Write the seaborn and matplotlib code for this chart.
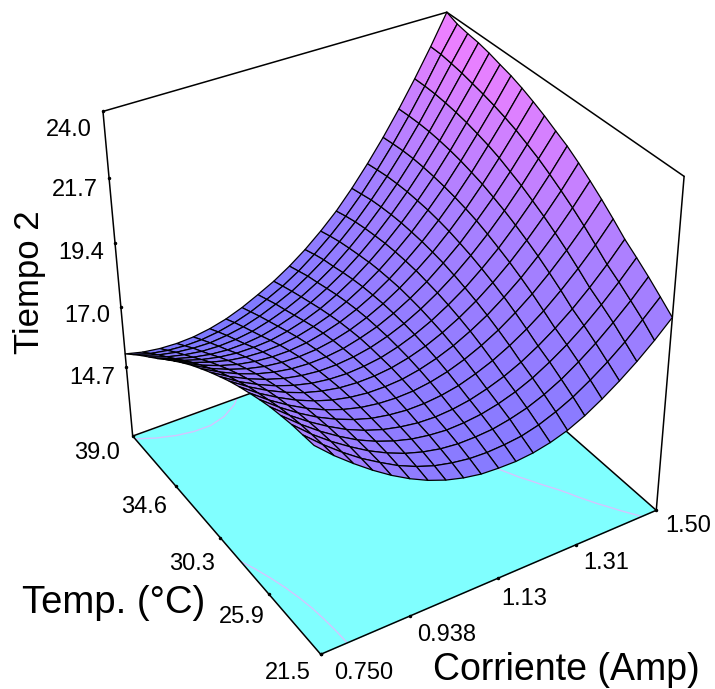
import numpy as np
import seaborn as sns
import matplotlib
matplotlib.use('Agg')
import matplotlib.pyplot as plt
from matplotlib.colors import Normalize
from mpl_toolkits.mplot3d import proj3d

corriente = [0.75, 0.7875, 0.825, 0.8625, 0.9, 0.9375, 0.975, 1.0125, 1.05, 1.0875, 1.125,
             1.1625, 1.2, 1.2375, 1.275, 1.3125, 1.35, 1.3875, 1.425, 1.4625, 1.5]
temp = [21.5, 22.375, 23.25, 24.125, 25.0, 25.875, 26.75, 27.625, 28.5, 29.375, 30.25,
        31.125, 32.0, 32.875, 33.75, 34.625, 35.5, 36.375, 37.25, 38.125, 39.0]

# filas = temp, columnas = corriente
tiempo2 = [
    [19.50, 18.90, 18.37, 17.88, 17.44, 17.06, 16.74, 16.49, 16.31, 16.19, 16.15, 16.14, 16.20, 16.33, 16.53, 16.82, 17.19, 17.61, 18.08, 18.61, 19.20],
    [19.46, 18.88, 18.36, 17.89, 17.49, 17.12, 16.83, 16.60, 16.45, 16.35, 16.32, 16.35, 16.42, 16.58, 16.82, 17.12, 17.50, 17.93, 18.42, 18.99, 19.58],
    [19.42, 18.84, 18.34, 17.90, 17.50, 17.17, 16.90, 16.70, 16.56, 16.49, 16.49, 16.53, 16.65, 16.82, 17.07, 17.39, 17.79, 18.24, 18.76, 19.32, 19.95],
    [19.34, 18.79, 18.30, 17.87, 17.49, 17.19, 16.95, 16.77, 16.66, 16.60, 16.62, 16.69, 16.83, 17.03, 17.30, 17.65, 18.05, 18.52, 19.05, 19.64, 20.29],
    [19.25, 18.71, 18.24, 17.83, 17.47, 17.19, 16.97, 16.82, 16.72, 16.69, 16.73, 16.83, 17.00, 17.22, 17.51, 17.87, 18.29, 18.77, 19.32, 19.93, 20.61],
    [19.12, 18.61, 18.16, 17.77, 17.45, 17.19, 16.99, 16.87, 16.80, 16.80, 16.86, 16.98, 17.18, 17.43, 17.75, 18.13, 18.57, 19.09, 19.66, 20.29, 21.00],
    [18.97, 18.48, 18.06, 17.70, 17.40, 17.17, 17.00, 16.90, 16.86, 16.88, 16.97, 17.12, 17.34, 17.62, 17.96, 18.37, 18.84, 19.38, 19.98, 20.64, 21.37],
    [18.81, 18.34, 17.95, 17.61, 17.34, 17.13, 16.99, 16.91, 16.90, 16.94, 17.06, 17.24, 17.48, 17.79, 18.15, 18.59, 19.08, 19.65, 20.27, 20.96, 21.71],
    [18.63, 18.19, 17.82, 17.51, 17.26, 17.08, 16.96, 16.91, 16.92, 16.99, 17.13, 17.33, 17.60, 17.93, 18.32, 18.78, 19.30, 19.89, 20.54, 21.25, 22.03],
    [18.42, 18.00, 17.66, 17.37, 17.15, 16.99, 16.90, 16.87, 16.91, 17.00, 17.17, 17.40, 17.69, 18.05, 18.46, 18.95, 19.49, 20.11, 20.78, 21.52, 22.32],
    [18.20, 17.81, 17.49, 17.23, 17.03, 16.90, 16.83, 16.83, 16.89, 17.01, 17.20, 17.45, 17.77, 18.15, 18.59, 19.10, 19.67, 20.31, 21.01, 21.77, 22.55],
    [17.96, 17.60, 17.30, 17.06, 16.89, 16.78, 16.74, 16.76, 16.84, 17.00, 17.20, 17.48, 17.82, 18.22, 18.70, 19.22, 19.83, 20.48, 21.20, 21.98, 22.79],
    [17.71, 17.36, 17.09, 16.88, 16.73, 16.65, 16.63, 16.67, 16.78, 16.95, 17.19, 17.49, 17.86, 18.29, 18.77, 19.33, 19.95, 20.64, 21.39, 22.18, 23.00],
    [17.43, 17.11, 16.86, 16.67, 16.55, 16.49, 16.49, 16.56, 16.70, 16.89, 17.15, 17.47, 17.86, 18.32, 18.83, 19.41, 20.05, 20.76, 21.54, 22.34, 23.19],
    [17.13, 16.84, 16.62, 16.45, 16.35, 16.31, 16.34, 16.43, 16.59, 16.80, 17.09, 17.44, 17.85, 18.33, 18.86, 19.47, 20.13, 20.87, 21.66, 22.48, 23.35],
    [16.82, 16.55, 16.35, 16.21, 16.13, 16.12, 16.16, 16.28, 16.46, 16.70, 17.01, 17.38, 17.82, 18.32, 18.88, 19.50, 20.19, 20.95, 21.77, 22.60, 23.47],
    [16.49, 16.25, 16.07, 15.95, 15.89, 15.90, 15.97, 16.12, 16.32, 16.58, 16.91, 17.30, 17.76, 18.28, 18.87, 19.52, 20.23, 21.01, 21.85, 22.70, 23.60],
    [16.18, 15.95, 15.80, 15.70, 15.67, 15.70, 15.79, 15.96, 16.18, 16.46, 16.80, 17.20, 17.69, 18.23, 18.84, 19.51, 20.25, 21.05, 21.91, 22.80, 23.70],
    [15.87, 15.66, 15.53, 15.46, 15.44, 15.50, 15.61, 15.80, 16.05, 16.33, 16.70, 17.12, 17.61, 18.16, 18.79, 19.48, 20.24, 21.06, 21.95, 22.87, 23.76],
    [15.54, 15.35, 15.24, 15.19, 15.20, 15.28, 15.42, 15.62, 15.89, 16.19, 16.56, 17.00, 17.50, 18.06, 18.70, 19.42, 20.20, 21.05, 21.96, 22.93, 23.84],
    [15.20, 15.04, 14.95, 14.92, 14.95, 15.05, 15.21, 15.44, 15.73, 16.04, 16.42, 16.86, 17.37, 17.94, 18.61, 19.35, 20.15, 21.02, 21.95, 22.94, 24.00],
]

x_ticks = [0.75, 0.938, 1.13, 1.31, 1.50]
x_labels = ['0.750', '0.938', '1.13', '1.31', '1.50']
y_ticks = [21.5, 25.9, 30.3, 34.6, 39.0]
y_labels = ['21.5', '25.9', '30.3', '34.6', '39.0']
z_ticks = [14.7, 17.0, 19.4, 21.7, 24.0]
z_labels = ['14.7', '17.0', '19.4', '21.7', '24.0']
contour_levels = [15.3, 18.65]
z_floor = 11.9

W, H = 715, 689

# desplazamiento de las etiquetas respecto a su marca, en pixeles
x_offsets = [(13, -19), (7, -19), (4, -21), (7, -18), (9, -16)]
y_offsets = [(-33, -19), (-27, -23), (-28, -26), (-31, -21), (-36, -17)]
z_offsets = [(-11, -11), (-11, -9), (-11, -10), (-11, -12), (-11, -19)]

sns.set_style('white')
plt.rcParams['font.family'] = ['Liberation Sans', 'DejaVu Sans']

fig = plt.figure(figsize=(W / 100, H / 100), dpi=100)
left, top, side = 42.37, -10.35, 671.31
ax = fig.add_axes([left / W, 1 - (top + side) / H, side / W, side / H], projection='3d',
                  computed_zorder=False)
ax.set_xlim(corriente[0], corriente[-1])
ax.set_ylim(temp[0], temp[-1])
ax.set_zlim(z_floor, z_ticks[-1])
ax.set_box_aspect((1, 1.0017, 0.9964))
ax.view_init(elev=34.413, azim=-121.618, roll=0.415)
ax._focal_length = 0.5948
ax.set_axis_off()

X, Y = np.meshgrid(corriente, temp)
Z = np.array(tiempo2)
x0, x1 = corriente[0], corriente[-1]
y0, y1 = temp[0], temp[-1]
z1 = z_ticks[-1]

# piso con contornos
ax.plot_surface(np.array([[x0, x1], [x0, x1]]), np.array([[y0, y0], [y1, y1]]),
                np.full((2, 2), z_floor), color='#80ffff', shade=False, linewidth=0, zorder=1)
ax.contour(X, Y, Z, levels=contour_levels, zdir='z', offset=z_floor,
           colors='#d4c4ff', linewidths=1, zorder=2)

# caja
edges = [((x0, x1), (y0, y0), (z_floor, z_floor)), ((x0, x0), (y0, y1), (z_floor, z_floor)),
         ((x0, x1), (y1, y1), (z_floor, z_floor)), ((x1, x1), (y0, y1), (z_floor, z_floor)),
         ((x0, x0), (y1, y1), (z_floor, z1)), ((x1, x1), (y0, y0), (z_floor, z1)),
         ((x0, x1), (y1, y1), (z1, z1)), ((x1, x1), (y0, y1), (z1, z1))]
for ex, ey, ez in edges:
    ax.plot(ex, ey, ez, color='black', lw=1.1, zorder=3)

ax.plot(x_ticks, [y0] * 5, [z_floor] * 5, ls='', marker='o', ms=1.5, color='black', zorder=3)
ax.plot([x0] * 5, y_ticks, [z_floor] * 5, ls='', marker='o', ms=1.5, color='black', zorder=3)
ax.plot([x0] * 5, [y1] * 5, z_ticks, ls='', marker='o', ms=1.5, color='black', zorder=3)

# superficie
cmap = sns.blend_palette(['#7878ff', '#a880ff', '#ff80ff'], as_cmap=True)
norm = Normalize(z_ticks[0], z_ticks[-1])
ax.plot_surface(X, Y, Z, rstride=1, cstride=1, facecolors=cmap(norm(Z)), shade=False,
                edgecolor='black', linewidth=0.9, zorder=4)

M = ax.get_proj()


def tick_text(x, y, z, label, offset, ha):
    px, py, _ = proj3d.proj_transform(x, y, z, M)
    ax.annotate(label, xy=(px, py), xytext=offset, textcoords='offset pixels',
                ha=ha, va='center', fontsize=17, color='black', annotation_clip=False)


for v, lab, off in zip(x_ticks, x_labels, x_offsets):
    tick_text(v, y0, z_floor, lab, off, 'left')
for v, lab, off in zip(y_ticks, y_labels, y_offsets):
    tick_text(x0, v, z_floor, lab, off, 'center')
for v, lab, off in zip(z_ticks, z_labels, z_offsets):
    tick_text(x0, y1, v, lab, off, 'right')

fig.text(29 / W, 1 - 282 / H, 'Tiempo 2', rotation=90, fontsize=25, ha='center', va='center', color='black')
fig.text(114 / W, 1 - 603 / H, 'Temp. (°C)', fontsize=27.5, ha='center', va='center', color='black')
fig.text(566 / W, 1 - 670 / H, 'Corriente (Amp)', fontsize=27, ha='center', va='center', color='black')

fig.savefig('out.png', dpi=100)
